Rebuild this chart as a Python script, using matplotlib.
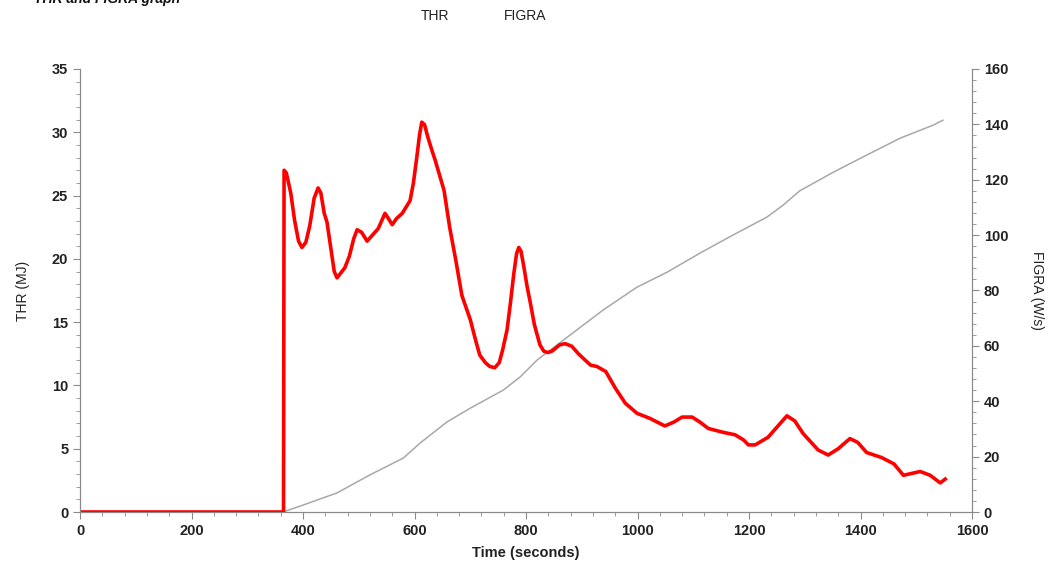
import matplotlib.pyplot as plt
from matplotlib.ticker import MultipleLocator

# curva vermelha (eixo esquerdo)
t_red = [0, 365, 366, 370, 378, 385, 392, 398, 405, 412, 420, 427, 432, 438, 443, 450, 456, 461,
         468, 475, 483, 491, 497, 505, 515, 525, 535, 541, 547, 553, 560, 568, 578, 585, 592,
         598, 604, 609, 613, 618, 624, 631, 637, 645, 653, 663, 674, 685, 700, 710, 717, 727,
         735, 744, 752, 758, 766, 772, 778, 783, 787, 791, 796, 802, 807, 815, 825, 832, 839,
         846, 852, 860, 870, 882, 894, 906, 916, 927, 943, 960, 978, 999, 1022, 1049, 1065,
         1080, 1098, 1112, 1127, 1153, 1175, 1190, 1199, 1211, 1234, 1252, 1268, 1282, 1297,
         1324, 1342, 1360, 1381, 1395, 1411, 1438, 1460, 1477, 1507, 1525, 1543, 1552]
thr = [0, 0, 27.0, 26.8, 25.2, 23.0, 21.4, 20.9, 21.3, 22.6, 24.8, 25.6, 25.2, 23.6, 22.9, 20.8, 19.0, 18.5,
       18.9, 19.3, 20.2, 21.6, 22.3, 22.1, 21.4, 21.9, 22.4, 23.0, 23.6, 23.2, 22.7, 23.2, 23.6, 24.1, 24.6,
       26.0, 28.0, 29.8, 30.8, 30.6, 29.6, 28.6, 27.8, 26.6, 25.4, 22.5, 19.9, 17.1, 15.2, 13.5, 12.4, 11.8,
       11.5, 11.4, 11.8, 12.8, 14.4, 16.5, 18.8, 20.4, 20.9, 20.6, 19.4, 17.8, 16.7, 14.8, 13.2, 12.7, 12.6,
       12.7, 12.9, 13.2, 13.3, 13.1, 12.5, 12.0, 11.6, 11.5, 11.1, 9.8, 8.6, 7.8, 7.4, 6.8, 7.1,
       7.5, 7.5, 7.1, 6.6, 6.3, 6.1, 5.7, 5.3, 5.3, 5.9, 6.8, 7.6, 7.2, 6.2,
       4.9, 4.5, 5.0, 5.8, 5.5, 4.7, 4.3, 3.8, 2.9, 3.2, 2.9, 2.3, 2.6]

# curva cinza (eixo direito)
t_gray = [364, 400, 461, 520, 580, 610, 658, 700, 759, 789, 820, 879, 938, 999, 1053,
          1112, 1171, 1232, 1261, 1291, 1351, 1411, 1471, 1530, 1548]
figra = [0, 2.5, 6.9, 13.4, 19.5, 24.9, 32.5, 37.5, 44.0, 48.7, 54.9, 63.9, 72.9, 81.2, 86.6,
         93.5, 100, 106.5, 110.8, 116, 122.7, 128.9, 135, 139.7, 141.5]

plt.rcParams['font.family'] = ['Liberation Sans', 'DejaVu Sans']
fig = plt.figure(figsize=(10.49, 5.66), dpi=100)
ax = fig.add_axes([0.0763, 0.0954, 0.8503, 0.7827])
ax2 = ax.twinx()
ax.set_zorder(ax2.get_zorder() + 1)
ax.patch.set_visible(False)

ax.plot(t_red, thr, color='#ff0000', lw=2.6)
ax2.plot(t_gray, figra, color='#a8a8a8', lw=1.1)

ax.set_xlim(0, 1600)
ax.set_ylim(0, 35)
ax2.set_ylim(0, 160)

ax.xaxis.set_major_locator(MultipleLocator(200))
ax.xaxis.set_minor_locator(MultipleLocator(40))
ax.yaxis.set_major_locator(MultipleLocator(5))
ax.yaxis.set_minor_locator(MultipleLocator(1))
ax2.yaxis.set_major_locator(MultipleLocator(20))
ax2.yaxis.set_minor_locator(MultipleLocator(4))

for a in (ax, ax2):
    for s in a.spines.values():
        s.set_color('#8a8a8a')
    a.spines['top'].set_visible(False)
    a.tick_params(which='major', length=5, color='#8a8a8a', labelsize=10.5, labelcolor='#222222')
    a.tick_params(which='minor', length=3, color='#8a8a8a')
    for lab in a.get_xticklabels() + a.get_yticklabels():
        lab.set_fontweight('bold')

ax.set_xlabel('Time (seconds)', fontsize=10.5, fontweight='bold', color='#222222', labelpad=6)
ax.set_ylabel('THR (MJ)', fontsize=10, color='#222222', labelpad=16)
ax2.set_ylabel('FIGRA (W/s)', fontsize=10, color='#222222', rotation=270, labelpad=26)

fig.text(0.415, 0.972, 'THR', fontsize=10, color='#222222', ha='center', va='center')
fig.text(0.501, 0.972, 'FIGRA', fontsize=10, color='#222222', ha='center', va='center')
# titulo cortado no topo, como na imagem original
fig.text(0.172, 0.9955, 'THR and FIGRA graph', fontsize=10, fontweight='bold',
         style='italic', ha='right', va='baseline', color='#111111')

plt.savefig('out.png', dpi=100)
